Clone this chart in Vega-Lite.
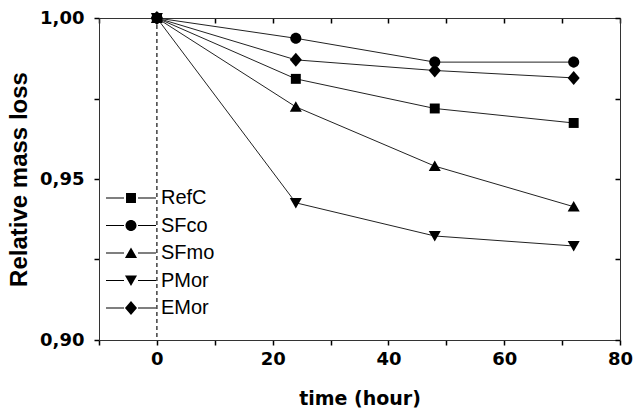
{
  "$schema": "https://vega.github.io/schema/vega-lite/v6.json",
  "width": 521,
  "height": 322,
  "autosize": "none",
  "padding": {"left": 99, "top": 18, "right": 15, "bottom": 76},
  "background": "white",
  "config": {
    "view": {"stroke": null}
  },
  "datasets": {
    "mass": [
      {"series": "RefC", "time": 0, "value": 1.0},
      {"series": "RefC", "time": 24, "value": 0.9811},
      {"series": "RefC", "time": 48, "value": 0.9719},
      {"series": "RefC", "time": 72, "value": 0.9674},
      {"series": "SFco", "time": 0, "value": 1.0},
      {"series": "SFco", "time": 24, "value": 0.9937},
      {"series": "SFco", "time": 48, "value": 0.9863},
      {"series": "SFco", "time": 72, "value": 0.9863},
      {"series": "SFmo", "time": 0, "value": 1.0},
      {"series": "SFmo", "time": 24, "value": 0.9724},
      {"series": "SFmo", "time": 48, "value": 0.954},
      {"series": "SFmo", "time": 72, "value": 0.9414},
      {"series": "PMor", "time": 0, "value": 1.0},
      {"series": "PMor", "time": 24, "value": 0.9426},
      {"series": "PMor", "time": 48, "value": 0.9323},
      {"series": "PMor", "time": 72, "value": 0.9292},
      {"series": "EMor", "time": 0, "value": 1.0},
      {"series": "EMor", "time": 24, "value": 0.987},
      {"series": "EMor", "time": 48, "value": 0.9837},
      {"series": "EMor", "time": 72, "value": 0.9814}
    ],
    "origin": [{"time": 0}]
  },
  "layer": [
    {
      "data": {"name": "origin"},
      "mark": {"type": "rule", "strokeDash": [4, 3], "color": "#222", "strokeWidth": 1.3},
      "encoding": {
        "x": {"field": "time", "type": "quantitative", "scale": {"domain": [-10, 80], "nice": false, "zero": false}, "axis": null}
      }
    },
    {
      "data": {"name": "mass"},
      "mark": {"type": "line", "color": "#222", "strokeWidth": 1},
      "encoding": {
        "x": {
          "field": "time", "type": "quantitative",
          "scale": {"domain": [-10, 80], "nice": false, "zero": false},
          "axis": {
            "orient": "bottom", "grid": false,
            "values": [-10, 0, 10, 20, 30, 40, 50, 60, 70, 80],
            "labelExpr": "datum.value % 20 === 0 ? datum.label : ''",
            "tickSize": 5, "tickColor": "black", "tickWidth": 1.5,
            "domainColor": "#333", "domainWidth": 1,
            "labelPadding": 5, "labelColor": "black",
            "labelFont": "DejaVu Sans", "labelFontSize": 18, "labelFontWeight": "bold",
            "labelFlush": false, "labelOverlap": false,
            "title": "time (hour)", "titleColor": "black",
            "titleFont": "DejaVu Sans", "titleFontSize": 19, "titleFontWeight": "bold",
            "titlePadding": 21
          }
        },
        "y": {
          "field": "value", "type": "quantitative",
          "scale": {"domain": [0.9, 1.0], "nice": false, "zero": false},
          "axis": {
            "orient": "left", "grid": false,
            "values": [0.9, 0.925, 0.95, 0.975, 1.0],
            "labelExpr": "round(datum.value * 1000) % 50 === 0 ? replace(format(datum.value, '.2f'), '.', ',') : ''",
            "tickSize": 5, "tickColor": "black", "tickWidth": 1.5,
            "domainColor": "#333", "domainWidth": 1,
            "labelPadding": 10, "labelColor": "black",
            "labelFont": "DejaVu Sans", "labelFontSize": 18, "labelFontWeight": "bold",
            "labelFlush": false, "labelOverlap": false,
            "title": "Relative mass loss", "titleColor": "black",
            "titleFont": "Liberation Sans", "titleFontSize": 24, "titleFontWeight": "bold",
            "titlePadding": 8
          }
        },
        "detail": {"field": "series", "type": "nominal"}
      }
    },
    {
      "data": {"name": "mass"},
      "transform": [{"filter": "datum.series === 'RefC'"}],
      "mark": {"type": "point", "filled": true, "color": "black", "opacity": 1, "size": 196, "shape": "M-0.71,-0.71H0.71V0.71H-0.71Z"},
      "encoding": {
        "x": {
          "field": "time", "type": "quantitative",
          "scale": {"domain": [-10, 80], "nice": false, "zero": false},
          "axis": {
            "orient": "top", "grid": false,
            "values": [-10, 0, 10, 20, 30, 40, 50, 60, 70, 80],
            "labels": false, "title": null,
            "tickSize": -5, "tickColor": "black", "tickWidth": 1.5,
            "domainColor": "#333", "domainWidth": 1
          }
        },
        "y": {
          "field": "value", "type": "quantitative",
          "scale": {"domain": [0.9, 1.0], "nice": false, "zero": false},
          "axis": {
            "orient": "right", "grid": false,
            "values": [0.9, 0.925, 0.95, 0.975, 1.0],
            "labels": false, "title": null,
            "tickSize": -5, "tickColor": "black", "tickWidth": 1.5,
            "domainColor": "#333", "domainWidth": 1
          }
        }
      }
    },
    {
      "data": {"name": "mass"},
      "transform": [{"filter": "datum.series === 'SFco'"}],
      "mark": {"type": "point", "filled": true, "color": "black", "opacity": 1, "size": 196, "shape": "M-0.79,0A0.79,0.79,0,1,0,0.79,0A0.79,0.79,0,1,0,-0.79,0Z"},
      "encoding": {
        "x": {"field": "time", "type": "quantitative", "scale": {"domain": [-10, 80], "nice": false, "zero": false}, "axis": null},
        "y": {"field": "value", "type": "quantitative", "scale": {"domain": [0.9, 1.0], "nice": false, "zero": false}, "axis": null}
      }
    },
    {
      "data": {"name": "mass"},
      "transform": [{"filter": "datum.series === 'SFmo'"}],
      "mark": {"type": "point", "filled": true, "color": "black", "opacity": 1, "size": 196, "shape": "M0,-0.8L0.86,0.7L-0.86,0.7Z"},
      "encoding": {
        "x": {"field": "time", "type": "quantitative", "scale": {"domain": [-10, 80], "nice": false, "zero": false}, "axis": null},
        "y": {"field": "value", "type": "quantitative", "scale": {"domain": [0.9, 1.0], "nice": false, "zero": false}, "axis": null}
      }
    },
    {
      "data": {"name": "mass"},
      "transform": [{"filter": "datum.series === 'PMor'"}],
      "mark": {"type": "point", "filled": true, "color": "black", "opacity": 1, "size": 196, "shape": "M0,0.8L0.86,-0.7L-0.86,-0.7Z"},
      "encoding": {
        "x": {"field": "time", "type": "quantitative", "scale": {"domain": [-10, 80], "nice": false, "zero": false}, "axis": null},
        "y": {"field": "value", "type": "quantitative", "scale": {"domain": [0.9, 1.0], "nice": false, "zero": false}, "axis": null}
      }
    },
    {
      "data": {"name": "mass"},
      "transform": [{"filter": "datum.series === 'EMor'"}],
      "mark": {"type": "point", "filled": true, "color": "black", "opacity": 1, "size": 196, "shape": "M0,-1L0.86,0L0,1L-0.86,0Z"},
      "encoding": {
        "x": {"field": "time", "type": "quantitative", "scale": {"domain": [-10, 80], "nice": false, "zero": false}, "axis": null},
        "y": {"field": "value", "type": "quantitative", "scale": {"domain": [0.9, 1.0], "nice": false, "zero": false}, "axis": null}
      }
    },
    {
      "data": {"name": "mass"},
      "mark": {"type": "point", "filled": true, "fill": "black", "stroke": "black", "opacity": 0, "size": 196, "strokeWidth": 1},
      "encoding": {
        "x": {"field": "time", "type": "quantitative", "scale": {"domain": [-10, 80], "nice": false, "zero": false}, "axis": null},
        "y": {"field": "value", "type": "quantitative", "scale": {"domain": [0.9, 1.0], "nice": false, "zero": false}, "axis": null},
        "shape": {
          "field": "series", "type": "nominal",
          "scale": {
            "domain": ["RefC", "SFco", "SFmo", "PMor", "EMor"],
            "range": [
              "M-3.57,-0.08H-1V0.08H-3.57ZM1,-0.08H3.57V0.08H1ZM-0.71,-0.71H0.71V0.71H-0.71Z",
              "M-3.57,-0.08H-1V0.08H-3.57ZM1,-0.08H3.57V0.08H1ZM-0.79,0A0.79,0.79,0,1,0,0.79,0A0.79,0.79,0,1,0,-0.79,0Z",
              "M-3.57,-0.08H-1V0.08H-3.57ZM1,-0.08H3.57V0.08H1ZM0,-0.8L0.86,0.7L-0.86,0.7Z",
              "M-3.57,-0.08H-1V0.08H-3.57ZM1,-0.08H3.57V0.08H1ZM0,0.8L0.86,-0.7L-0.86,-0.7Z",
              "M-3.57,-0.08H-1V0.08H-3.57ZM1,-0.08H3.57V0.08H1ZM0,-1L0.86,0L0,1L-0.86,0Z"
            ]
          },
          "legend": {
            "orient": "none",
            "legendX": 22,
            "legendY": 170,
            "title": null,
            "padding": 0,
            "symbolSize": 196,
            "symbolOpacity": 1,
            "symbolFillColor": "black",
            "symbolStrokeColor": "black",
            "symbolStrokeWidth": 1,
            "labelFont": "Liberation Sans",
            "labelFontSize": 20,
            "labelColor": "black",
            "labelOffset": 20,
            "rowPadding": 7.5
          }
        }
      }
    }
  ],
  "resolve": {"axis": {"x": "independent", "y": "independent"}}
}
